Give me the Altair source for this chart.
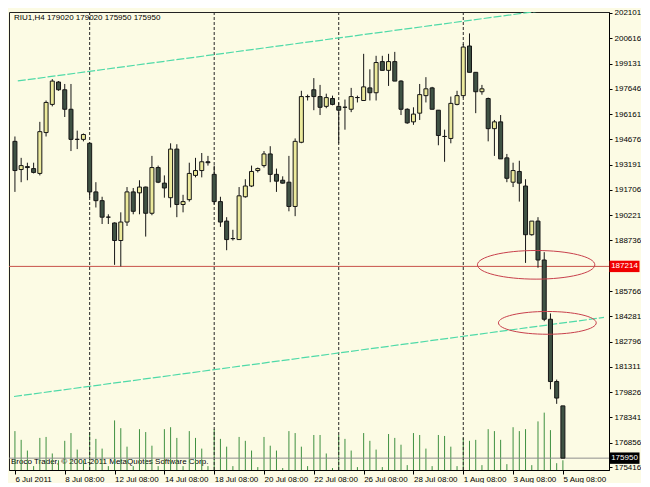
import altair as alt
import pandas as pd

# ---------------- data ----------------
symbol_text = "RIU1,H4  179020 179020 175950 175950"
footer_text = "Broco Trader, \u00a9 2001-2011 MetaQuotes Software Corp."

opens = [194560, 192905, 193075, 192960, 192675, 195075, 196730, 198045, 197590, 196445,
         194675, 194675, 194445, 191590, 191075, 190105, 189765, 188735, 189820, 191590,
         191535, 191875, 190335, 193020, 192105, 191250, 194105, 190850, 191135, 192560,
         192845, 193360, 192620, 191020, 189875, 188850, 188790, 191305, 191935, 192845,
         193135, 193820, 192620, 192275, 192160, 190735, 194505, 197190, 197590, 197190,
         196615, 197075, 196615, 196560, 196445, 197130, 196960, 197700, 197415, 199245,
         198730, 199245, 198100, 196445, 195705, 196215, 197245, 197700, 196390, 194845,
         194730, 196730, 197245, 200160, 198615, 197475, 197075, 195305, 195705, 193590,
         192160, 192790, 191935, 189075, 189875, 187590, 184110, 180450, 179020]
highs = [194845, 193590, 193305, 193305, 195705, 196960, 198215, 198100, 197930, 197930,
         195190, 195020, 194500, 192160, 191305, 190275, 189800, 190390, 191875, 191820,
         192275, 191900, 193705, 193135, 192560, 194445, 194390, 191420, 193305, 193590,
         193875, 193705, 193135, 191305, 190105, 189365, 191875, 192335, 193135, 193020,
         193990, 194275, 192960, 192505, 193705, 194730, 197530, 197305, 198275, 197875,
         197360, 197245, 196845, 197015, 197700, 197245, 199700, 198790, 199585, 199585,
         199700, 199815, 198150, 196500, 196560, 197930, 198330, 197760, 196390, 195245,
         197190, 197530, 200275, 200900, 198615, 197875, 197130, 195815, 196105, 193820,
         193305, 193420, 192335, 189875, 190105, 188050, 184450, 180565, 179020]
lows = [191590, 192160, 192275, 192675, 192560, 194845, 196615, 197530, 195990, 193990,
        194105, 194560, 191250, 190675, 189705, 189705, 187305, 187214, 189590, 190275,
        190275, 188965, 190220, 192105, 191250, 190675, 190105, 190390, 191020, 192445,
        192445, 193135, 190850, 189535, 188165, 188735, 188790, 191250, 191875, 192735,
        193020, 192160, 191590, 192080, 190450, 190165, 194450, 196960, 196390, 196105,
        196505, 196675, 194445, 195245, 196275, 196845, 196960, 196960, 196960, 198730,
        197815, 198100, 196105, 195590, 195530, 195815, 196845, 196445, 194330, 193360,
        194445, 196675, 197130, 198615, 196215, 197300, 194560, 193705, 193530, 192160,
        191875, 191020, 187420, 189020, 187135, 183995, 179995, 179140, 175950]
closes = [192845, 193135, 193020, 192735, 195130, 196845, 198100, 197590, 196445, 194675,
          194680, 194960, 191590, 191075, 190105, 190110, 188735, 189820, 191590, 190450,
          191875, 190335, 193020, 192160, 191820, 194105, 190850, 191020, 192675, 192845,
          193360, 193305, 191020, 189820, 188790, 188845, 191360, 191935, 192790, 192960,
          193820, 192620, 192220, 192105, 190735, 194560, 197190, 197185, 197190, 196560,
          197130, 196730, 196390, 196565, 197190, 197135, 197760, 197415, 199190, 198730,
          199245, 198100, 196445, 195645, 196160, 197305, 197645, 196445, 194905, 194850,
          196790, 197245, 200100, 198615, 197475, 197645, 195305, 195705, 193530, 192390,
          192845, 192105, 189075, 189875, 187590, 184110, 180450, 179480, 175950]
volumes = [40, 31, 20, 4, 33, 34, 17, 10, 30, 38,
           21, 10, 39, 32, 22, 4, 51, 43, 24, 4,
           42, 39, 25, 4, 42, 44, 33, 4, 40, 33,
           22, 4, 42, 32, 24, 4, 34, 30, 20, 3,
           34, 25, 20, 2, 40, 38, 24, 4, 36, 36,
           17, 2, 36, 32, 20, 3, 38, 30, 21, 3,
           37, 33, 26, 5, 38, 36, 22, 4, 36, 35,
           24, 4, 33, 30, 31, 5, 42, 40, 31, 6,
           44, 40, 42, 5, 50, 59, 41, 7, 10]

tick_bars = [0, 8, 16, 24, 32, 40, 48, 56, 64, 72, 80, 88]
tick_labels = ["6 Jul 2011", "8 Jul 08:00", "12 Jul 08:00", "14 Jul 08:00",
               "18 Jul 08:00", "20 Jul 08:00", "22 Jul 08:00", "26 Jul 08:00",
               "28 Jul 08:00", "1 Aug 08:00", "3 Aug 08:00", "5 Aug 08:00"]
price_ticks = [202101, 200616, 199131, 197646, 196161, 194676, 193191, 191706, 190221,
               188736, 185766, 184281, 182796, 181311, 179826, 178341, 176856, 175416]
week_starts = [12, 32, 52, 72]
support_level = 187214
bid_level = 175950
channel_bars = [0.46, 94.6, -0.15, 94.6]
channel_prices = [198108, 202723, 179573, 184216]
channel_names = ["upper", "upper", "lower", "lower"]
ellipse_bars = [83.7, 85.5]
ellipse_prices = [187307, 183897]

# ---------------- layout / style ----------------
W, H = 600, 458
BG = "#fcfbe4"
FONT = "Liberation Sans"

df = pd.DataFrame({"bar": list(range(len(opens))), "open": opens, "high": highs,
                   "low": lows, "close": closes, "volume": volumes})
df["dir"] = ["up" if c >= o else "down" for o, c in zip(opens, closes)]

x_scale = alt.Scale(domain=[-0.15, 94.6], nice=False, zero=False)
label_expr = "[" + ",".join("'" + t + "'" for t in tick_labels) + "][round(datum.value/8)]"
x_axis = alt.Axis(values=tick_bars, labelExpr=label_expr, labelAlign="left",
                  labelBaseline="top", labelPadding=1, tickSize=4, grid=False,
                  title=None, labelFlush=False, labelOverlap=False)
X = alt.X("bar:Q", scale=x_scale, axis=x_axis)

p_scale = alt.Scale(domain=[175254, 202158], nice=False, zero=False)
p_axis = alt.Axis(orient="right", values=price_ticks, format="d", tickSize=3,
                  labelPadding=2, grid=False, title=None, labelAlign="left",
                  labelBaseline="middle", labelOverlap=False, labelFlush=False)

def PY(field):
    return alt.Y(field, scale=p_scale, axis=p_axis)

base = alt.Chart(df)

wicks = base.mark_rule(color="#161616", strokeWidth=1).encode(
    x=X, y=PY("low:Q"), y2="high:Q")
bodies = base.mark_bar(width=4, stroke="#161616", strokeWidth=1).encode(
    x=X, y=PY("open:Q"), y2="close:Q",
    fill=alt.Fill("dir:N", scale=alt.Scale(domain=["up", "down"],
                                           range=["#ecea9c", "#3f5244"]), legend=None))

seps = alt.Chart(pd.DataFrame({"bar": week_starts})).mark_rule(
    color="#262626", strokeDash=[3, 2], strokeWidth=1).encode(x=X)

chan = alt.Chart(pd.DataFrame({"bar": channel_bars, "price": channel_prices,
                               "line": channel_names})).mark_line(
    clip=True, color="#4fdaa8", strokeWidth=1.2, strokeDash=[8, 2]).encode(
    x=X, y=PY("price:Q"), detail="line:N")

support = alt.Chart(pd.DataFrame({"price": [support_level]})).mark_rule(
    color="#c8524a", strokeWidth=1).encode(y=PY("price:Q"))
bid = alt.Chart(pd.DataFrame({"price": [bid_level]})).mark_rule(
    color="#8e8e8e", strokeWidth=1).encode(y=PY("price:Q"))

ell_df = pd.DataFrame({"bar": ellipse_bars, "price": ellipse_prices})
ell1 = alt.Chart(ell_df.iloc[[0]]).mark_point(
    shape="M -1 0 A 1 0.244 0 1 1 1 0 A 1 0.244 0 1 1 -1 0 Z", filled=False,
    stroke="#c8404c", strokeWidth=1, opacity=1, size=13783).encode(x=X, y=PY("price:Q"))
ell2 = alt.Chart(ell_df.iloc[[1]]).mark_point(
    shape="M -1 0 A 1 0.233 0 1 1 1 0 A 1 0.233 0 1 1 -1 0 Z", filled=False,
    stroke="#c8404c", strokeWidth=1, opacity=1, size=9565).encode(x=X, y=PY("price:Q"))

box_shape = "M -1 -0.38 L 1 -0.38 L 1 0.38 L -1 0.38 Z"
box_x = W + 15.5
sup_box = alt.Chart(pd.DataFrame({"price": [support_level], "t": [str(support_level)]}))
sup_rect = sup_box.mark_point(shape=box_shape, filled=True, color="#f00000", opacity=1,
                              size=900, clip=False).encode(x=alt.value(box_x), y=PY("price:Q"))
sup_txt = sup_box.mark_text(color="#ffffff", font=FONT, fontSize=8, align="center",
                            baseline="middle").encode(x=alt.value(box_x), y=PY("price:Q"), text="t:N")
bid_box = alt.Chart(pd.DataFrame({"price": [bid_level], "t": [str(bid_level)]}))
bid_rect = bid_box.mark_point(shape=box_shape, filled=True, color="#000000", opacity=1,
                              size=900, clip=False).encode(x=alt.value(box_x), y=PY("price:Q"))
bid_txt = bid_box.mark_text(color="#ffffff", font=FONT, fontSize=8, align="center",
                            baseline="middle").encode(x=alt.value(box_x), y=PY("price:Q"), text="t:N")

price_layer = alt.layer(seps, chan, support, bid, wicks, bodies, ell1, ell2,
                        sup_rect, sup_txt, bid_rect, bid_txt)

vol = base.mark_rule(color="#3f9040", strokeWidth=1).encode(
    x=X, y=alt.Y("volume:Q", scale=alt.Scale(domain=[0, 471], nice=False), axis=None),
    y2=alt.value(H))

texts = alt.Chart(pd.DataFrame({"t": [symbol_text, footer_text],
                                "px": [5, 2], "py": [6, 450]}))
title_txt = alt.Chart(pd.DataFrame({"t": [symbol_text]})).mark_text(
    font=FONT, fontSize=8, align="left", baseline="middle", color="#000").encode(
    x=alt.value(5), y=alt.value(6), text="t:N")
foot_txt = alt.Chart(pd.DataFrame({"t": [footer_text]})).mark_text(
    font=FONT, fontSize=8, align="left", baseline="middle", color="#000").encode(
    x=alt.value(2), y=alt.value(450), text="t:N")

chart = alt.layer(foot_txt, vol, price_layer, title_txt).resolve_scale(
    y="independent").properties(
    width=W, height=H, padding=0, background=BG).configure_view(
    stroke="#222222", strokeWidth=1, fill=BG).configure_axis(
    labelFont=FONT, labelFontSize=8, labelColor="#000000", tickColor="#000000",
    domainColor="#000000", domainWidth=1, tickWidth=1)

chart.save("out.html", embed_options={"renderer": "svg", "actions": False})
